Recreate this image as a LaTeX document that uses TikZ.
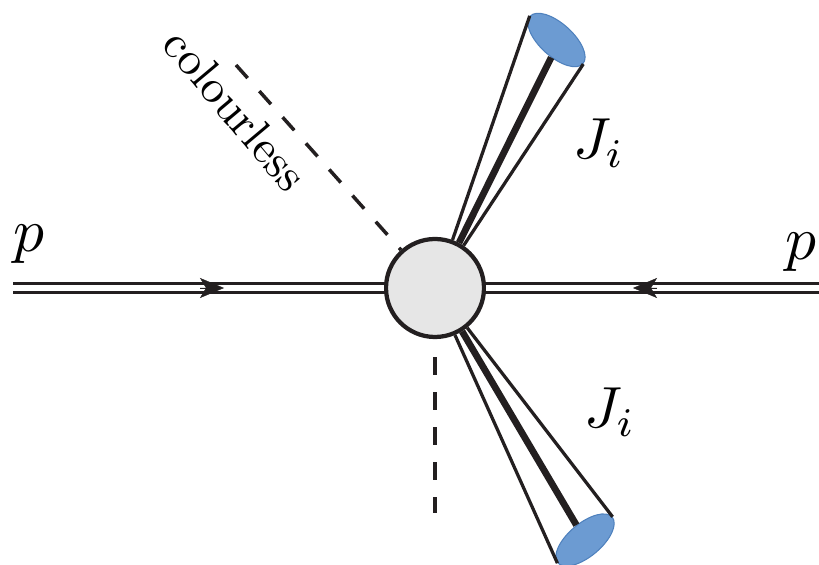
\documentclass[tikz,border=0pt]{standalone}
\usepackage{amsmath}
\usetikzlibrary{arrows.meta,shapes.geometric}
\definecolor{inkline}{HTML}{231F20}
\definecolor{blobgrey}{HTML}{E6E6E6}
\definecolor{jetblue}{HTML}{6C9BD2}
\definecolor{jetedge}{HTML}{4F81BD}
\tikzset{
	blob/.style={draw=inkline, fill=blobgrey, shape=circle, line width=0.085cm, minimum size=1.96cm, inner sep=0pt},
	jetcap/.style={draw=jetedge, fill=jetblue, shape=ellipse, line width=0.6pt, minimum width=1.42cm, minimum height=0.66cm, inner sep=0pt},
	proton/.style={draw=inkline, double, double distance=0.115cm, line width=0.058cm},
	protonhead/.style={draw=inkline, fill=inkline, line width=0.2pt, -{Stealth[length=0.48cm, width=0.4cm, inset=0.12cm]}},
	jetedgeline/.style={draw=inkline, line width=0.065cm},
	jetcore/.style={draw=inkline, line width=0.135cm},
	colourless/.style={draw=inkline, line width=0.07cm, dash pattern={on 0.35cm off 0.35cm}},
	biglabel/.style={scale=3.3, text=black}
}
\begin{document}
\begin{tikzpicture}
	\clip (0, 0) rectangle (16.38, 11.3);
	% colourless legs
	\coordinate (LegA) at (4.72, 10);
	\coordinate (LegB) at (8.02, 6.3);
	\coordinate (LegC) at (8.7, 4.154);
	\coordinate (LegD) at (8.7, 1.046);
	\draw[colourless] (LegA) -- (LegB);
	\draw[colourless] (LegC) -- (LegD);
	\node[blob](Blob) at (8.7, 5.54){};
	\node[jetcap, rotate=-42](JetUp) at (11.13, 10.5){};
	\node[jetcap, rotate=40](JetDown) at (11.7, 0.5){};
	\coordinate (PL) at (0.26, 5.54);
	\coordinate (PR) at (16.38, 5.54);
	\draw[proton] (PL) -- (Blob.west);
	\draw[proton] (PR) -- (Blob.east);
	\draw[protonhead] (4, 5.54) -- (4.48, 5.54);
	\draw[protonhead] (13.14, 5.54) -- (12.66, 5.54);
	% jet going up
	\draw[jetedgeline] (Blob.70) -- (JetUp.west);
	\draw[jetcore] (Blob.62) -- (JetUp.-65);
	\draw[jetedgeline] (Blob.56) -- (JetUp.east);
	% jet going down
	\draw[jetedgeline] (Blob.-67) -- (JetDown.west);
	\draw[jetcore] (Blob.-58) -- (JetDown.80);
	\draw[jetedgeline] (Blob.-51) -- (JetDown.east);
	\node[biglabel, scale=1.06](Pleft) at (0.57, 6.42){$p$};
	\node[biglabel, scale=1.06](Pright) at (16.01, 6.26){$p$};
	\node[biglabel](JiUp) at (11.98, 8.44){$J_i$};
	\node[biglabel](JiDown) at (12.2, 3.06){$J_i$};
	\node[scale=2.65, rotate=-50](Label) at (4.71, 9.1){colourless};
\end{tikzpicture}
\end{document}
